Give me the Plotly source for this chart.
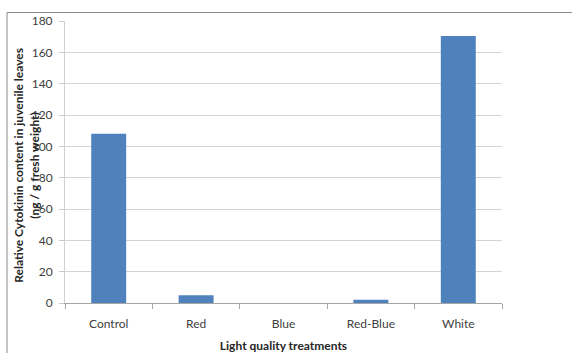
import plotly.graph_objects as go

treatments = ["Control", "Red", "Blue", "Red-Blue", "White"]
cytokinin = [108, 5, 0, 2, 170.5]
y_ticks = [0, 20, 40, 60, 80, 100, 120, 140, 160, 180]

font_family = "Lato, Open Sans, Liberation Sans, Arial, sans-serif"

fig = go.Figure(
    go.Bar(
        x=treatments,
        y=cytokinin,
        marker=dict(color="#4f81bd", line=dict(width=0)),
        width=0.4,
    )
)

fig.update_layout(
    width=572,
    height=353,
    margin=dict(l=65, r=70, t=20.5, b=49.5, autoexpand=False),
    paper_bgcolor="white",
    plot_bgcolor="white",
    showlegend=False,
    font=dict(family=font_family, size=12, color="#404040"),
    shapes=[
        dict(
            type="rect", xref="paper", yref="paper",
            x0=-0.1327, x1=1.3, y0=-0.3, y1=1.03,
            line=dict(color="#8a8a8a", width=1), layer="below",
        )
    ],
    annotations=[
        dict(
            text="<b>Relative Cytokinin content in juvenile leaves<br>(ng / g fresh weight)</b>",
            xref="paper", yref="paper", x=-0.087, y=0.49,
            xanchor="center", yanchor="middle",
            textangle=-90, showarrow=False,
            font=dict(size=12, color="#262626"),
        )
    ],
)

fig.update_xaxes(
    automargin=False,
    showline=True, linecolor="#a6a6a6", linewidth=1,
    ticks="outside", tickson="boundaries", ticklen=5, tickcolor="#a6a6a6",
    ticklabelstandoff=10,
    showgrid=False,
    title=dict(text="<b>Light quality treatments</b>", font=dict(size=12, color="#262626"), standoff=11),
)

fig.update_yaxes(
    automargin=False,
    range=[0, 180],
    tickvals=y_ticks,
    showline=True, linecolor="#d0d0d0", linewidth=1,
    ticks="outside", ticklen=5, tickcolor="#c8c8c8",
    ticklabelstandoff=4,
    showgrid=True, gridcolor="#d4d4d4", gridwidth=1,
    zeroline=False,
)

fig.write_html("out.html")
